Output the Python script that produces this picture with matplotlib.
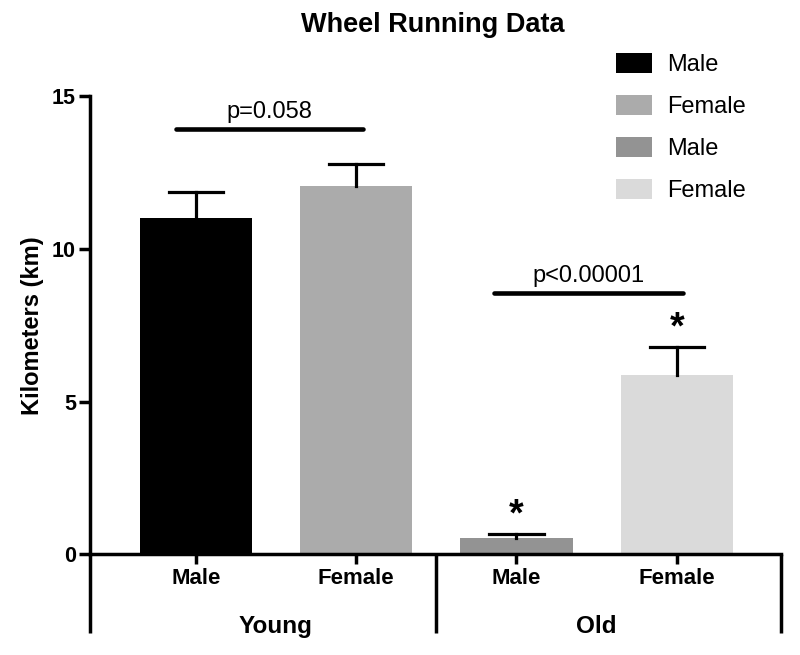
import matplotlib.pyplot as plt
import matplotlib.transforms as mtransforms

# data
groups = ['Young', 'Old']
sexes = ['Male', 'Female', 'Male', 'Female']
means = [11.0, 12.07, 0.52, 5.87]
errs = [0.85, 0.7, 0.15, 0.92]
colors = ['#000000', '#ababab', '#939393', '#dadada']
stars = [False, False, True, True]
p_labels = ['p=0.058', 'p<0.00001']
p_heights = [13.93, 8.56]
p_spans = [(-0.125, 1.04), (1.86, 3.04)]

plt.rcParams['font.family'] = ['Liberation Sans', 'DejaVu Sans']

fig = plt.figure(figsize=(8, 6.55), dpi=100)
ax = fig.add_axes([0.1125, 0.154, 0.8637, 0.699])

xpos = list(range(len(means)))
bars = ax.bar(xpos, means, width=0.7, color=colors, zorder=2)

# upper-only error bars
cap = 0.17
for x, m, e in zip(xpos, means, errs):
    ax.plot([x, x], [m, m + e], color='black', linewidth=2.3, zorder=3)
    ax.plot([x - cap, x + cap], [m + e, m + e], color='black', linewidth=2.3, zorder=3)

for i in range(len(means)):
    if stars[i]:
        ax.text(xpos[i], means[i] + errs[i] + 0.02, '*', ha='center', va='bottom',
                fontsize=27, fontweight='bold')

for lab, h, (a, b) in zip(p_labels, p_heights, p_spans):
    ax.plot([a, b], [h, h], color='black', linewidth=3.3, solid_capstyle='round', zorder=3)
    ax.text((a + b) / 2, h + 0.55, lab, ha='center', va='center', fontsize=17)

ax.set_xlim(-0.66, 3.65)
ax.set_ylim(0, 15)
ax.set_yticks([0, 5, 10, 15])
ax.set_yticklabels(['0', '5', '10', '15'], fontsize=15.5, fontweight='bold')
ax.set_xticks(xpos)
ax.set_xticklabels(sexes, fontsize=16, fontweight='bold')
ax.tick_params(axis='both', width=2.5, direction='out')
ax.tick_params(axis='y', length=8, pad=2)
ax.tick_params(axis='x', length=7, pad=3)
ax.set_ylabel('Kilometers (km)', fontsize=17, fontweight='bold', labelpad=6)

for s in ['top', 'right']:
    ax.spines[s].set_visible(False)
for s in ['left', 'bottom']:
    ax.spines[s].set_linewidth(2.5)
ax.spines['left'].set_zorder(4)

# group dividers below the axis
trans = mtransforms.blended_transform_factory(ax.transData, ax.transAxes)
for xd in [-0.66, 1.5, 3.65]:
    ax.plot([xd, xd], [0, -0.172], color='black', linewidth=2.5, transform=trans,
            clip_on=False, solid_capstyle='butt')
for gi, g in enumerate(groups):
    ax.text(gi * 2 + 0.5, -0.159, g, transform=trans, ha='center', va='center',
            fontsize=17.5, fontweight='bold')

fig.text(0.541, 1 - 25 / 655, 'Wheel Running Data', ha='center', va='center',
         fontsize=19.5, fontweight='bold')

leg = ax.legend(bars, sexes, loc='upper left', bbox_to_anchor=(616 / 800, 1 - 53 / 655),
                bbox_transform=fig.transFigure, frameon=False, fontsize=17,
                handlelength=1.53, handleheight=0.93, labelspacing=0.8,
                handletextpad=0.65, borderpad=0, borderaxespad=0)

fig.savefig('out.png', dpi=100)
